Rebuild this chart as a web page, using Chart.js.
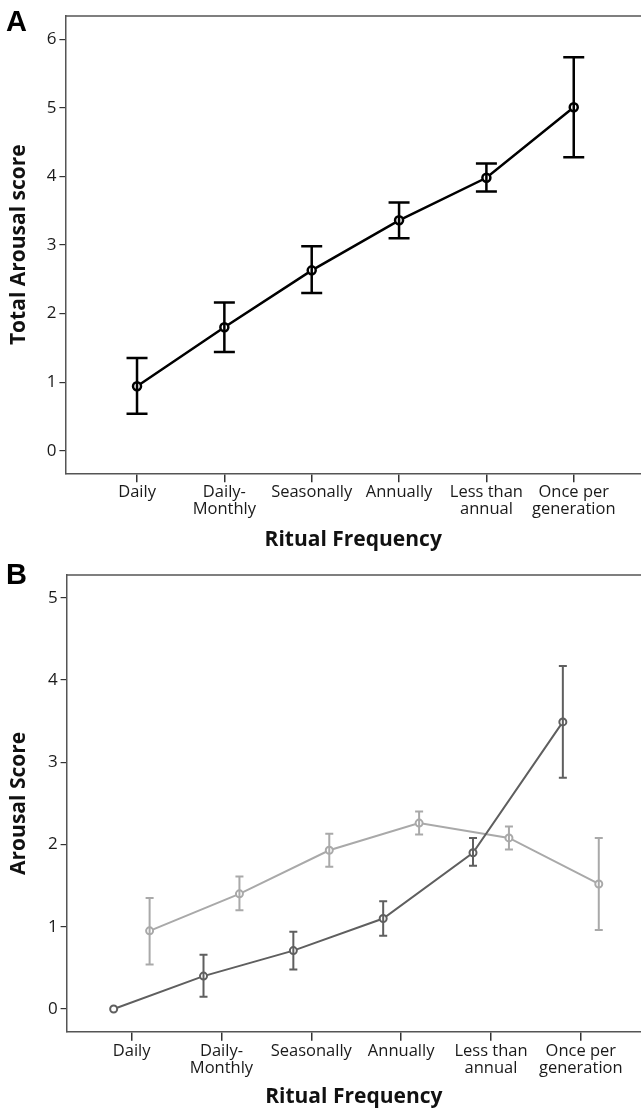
<!DOCTYPE html>
<html>
<head>
<meta charset="utf-8">
<script src="https://cdn.jsdelivr.net/npm/chart.js@4"></script>
<style>
  body { margin: 0; background: #fff; overflow: hidden; }
  .panel { position: absolute; left: 0; width: 641px; }
  .panel canvas { display: block; }
  #boxA { top: 0; height: 555px; }
  #boxB { top: 555px; height: 556px; }
</style>
</head>
<body>
<div class="panel" id="boxA"><canvas id="chartA" width="641" height="555"></canvas></div>
<div class="panel" id="boxB"><canvas id="chartB" width="641" height="556"></canvas></div>
<script>
// categorias do eixo x
const categorias = ['Daily', ['Daily-', 'Monthly'], 'Seasonally', 'Annually', ['Less than', 'annual'], ['Once per', 'generation']];

// Painel A - Total Arousal score
const totalMedia = [0.94, 1.80, 2.63, 3.36, 3.98, 5.01];
const totalMin   = [0.54, 1.44, 2.30, 3.10, 3.78, 4.28];
const totalMax   = [1.35, 2.16, 2.98, 3.62, 4.19, 5.74];

// Painel B - duas series
const escuraMedia = [0.00, 0.40, 0.71, 1.10, 1.90, 3.49];
const escuraMin   = [0.00, 0.15, 0.48, 0.89, 1.74, 2.81];
const escuraMax   = [0.00, 0.66, 0.94, 1.31, 2.08, 4.17];

const claraMedia = [0.95, 1.40, 1.93, 2.26, 2.08, 1.52];
const claraMin   = [0.54, 1.20, 1.73, 2.12, 1.94, 0.96];
const claraMax   = [1.35, 1.61, 2.13, 2.40, 2.22, 2.08];

const yTicksA = [0, 1, 2, 3, 4, 5, 6];
const yTicksB = [0, 1, 2, 3, 4, 5];

const fonte = "'Open Sans', sans-serif";

function pontos(valores, desloc) {
    return valores.map((v, i) => ({ x: i + desloc, y: v }));
}

// Plugin de barras de erro + moldura + letra do painel
const pluginErro = {
    id: 'barrasErro',
    afterDatasetsDraw(chart) {
        const ctx = chart.ctx;
        const yScale = chart.scales.y;
        chart.data.datasets.forEach((ds, di) => {
            if (!ds.errMin) return;
            const meta = chart.getDatasetMeta(di);
            ctx.save();
            ctx.strokeStyle = ds.borderColor;
            ctx.lineWidth = ds.errWidth;
            meta.data.forEach((pt, i) => {
                if (ds.errMin[i] === ds.errMax[i]) return;
                const yLo = yScale.getPixelForValue(ds.errMin[i]);
                const yHi = yScale.getPixelForValue(ds.errMax[i]);
                const w = ds.capHalf;
                ctx.beginPath();
                ctx.moveTo(pt.x, yLo); ctx.lineTo(pt.x, yHi);
                ctx.moveTo(pt.x - w, yLo); ctx.lineTo(pt.x + w, yLo);
                ctx.moveTo(pt.x - w, yHi); ctx.lineTo(pt.x + w, yHi);
                ctx.stroke();
            });
            ctx.restore();
        });
    },
    afterDraw(chart) {
        const { ctx, chartArea } = chart;
        const letra = chart.options.plugins.barrasErro.letra;
        ctx.save();
        // linha superior da moldura
        ctx.strokeStyle = '#555';
        ctx.lineWidth = 1.5;
        ctx.beginPath();
        ctx.moveTo(chartArea.left, chartArea.top);
        ctx.lineTo(chart.width, chartArea.top);
        ctx.stroke();
        ctx.fillStyle = '#000';
        ctx.font = 'bold 29px "Liberation Sans", Arial, sans-serif';
        ctx.textAlign = 'left';
        ctx.textBaseline = 'middle';
        ctx.fillText(letra.texto, 6, letra.y);
        ctx.restore();
    }
};

function criarGrafico(canvasId, datasets, cfg) {
    const ctx = document.getElementById(canvasId).getContext('2d');
    return new Chart(ctx, {
        type: 'line',
        data: { datasets: datasets },
        options: {
            responsive: false,
            animation: false,
            layout: {
                autoPadding: false, // sem isso o Chart.js reserva espaço à direita para os pontos
                padding: { top: cfg.top, right: 0, left: 0, bottom: cfg.bottom }
            },
            plugins: {
                legend: { display: false },
                tooltip: { enabled: false },
                barrasErro: { letra: cfg.letra }
            },
            scales: {
                x: {
                    type: 'linear',
                    min: cfg.xMin,
                    max: cfg.xMax,
                    afterBuildTicks: (ax) => { ax.ticks = categorias.map((c, i) => ({ value: i })); },
                    afterFit: (ax) => {
                        ax.height = cfg.xHeight;
                        ax.paddingLeft = 0;
                        ax.paddingRight = 0;
                    },
                    ticks: {
                        autoSkip: false,
                        maxRotation: 0,
                        padding: 2,
                        color: '#1a1a1a',
                        font: { family: fonte, size: 16.5, lineHeight: 1.02 },
                        callback: (v) => categorias[v]
                    },
                    grid: { drawOnChartArea: false, tickLength: 9, color: '#333', lineWidth: 1.5 },
                    border: { color: '#555', width: 1.5 },
                    title: {
                        display: true,
                        text: 'Ritual Frequency',
                        color: '#111',
                        font: { family: fonte, size: 21, weight: 'bold' },
                        padding: { top: 0, bottom: cfg.titlePadX }
                    }
                },
                y: {
                    min: cfg.yMin,
                    max: cfg.yMax,
                    afterBuildTicks: (ax) => { ax.ticks = cfg.yTicks.map(v => ({ value: v })); },
                    afterFit: (ax) => { ax.width = cfg.yWidth; },
                    ticks: {
                        padding: 3,
                        color: '#1a1a1a',
                        font: { family: fonte, size: 17 }
                    },
                    grid: { drawOnChartArea: false, tickLength: 6, color: '#333', lineWidth: 1.2 },
                    border: { color: '#555', width: 1.5 },
                    title: {
                        display: true,
                        text: cfg.yTitulo,
                        color: '#111',
                        font: { family: fonte, size: 21, weight: 'bold' },
                        padding: { top: 6, bottom: 0 }
                    }
                }
            }
        },
        plugins: [pluginErro]
    });
}

// Painel A
criarGrafico('chartA', [{
    data: pontos(totalMedia, 0),
    errMin: totalMin, errMax: totalMax,
    borderColor: '#000', borderWidth: 2.5,
    pointRadius: 4, pointBorderWidth: 2.5, pointBackgroundColor: '#fff',
    errWidth: 2.5, capHalf: 10.5
}], {
    top: 16, bottom: 0, xMin: -0.82, xMax: 5.77, yMin: -0.33, yMax: 6.34,
    yTicks: yTicksA, yWidth: 65.4, xHeight: 81.7, titlePadX: 2,
    yTitulo: 'Total Arousal score', letra: { texto: 'A', y: 23 }
});

// Painel B
criarGrafico('chartB', [{
    data: pontos(escuraMedia, -0.2),
    errMin: escuraMin, errMax: escuraMax,
    borderColor: '#5f5f5f', borderWidth: 2,
    pointRadius: 3.5, pointBorderWidth: 2, pointBackgroundColor: '#fff',
    errWidth: 2, capHalf: 4
}, {
    data: pontos(claraMedia, 0.2),
    errMin: claraMin, errMax: claraMax,
    borderColor: '#a9a9a9', borderWidth: 2,
    pointRadius: 3.5, pointBorderWidth: 2, pointBackgroundColor: '#fff',
    errWidth: 2, capHalf: 4
}], {
    top: 20, bottom: 0, xMin: -0.724, xMax: 5.67, yMin: -0.276, yMax: 5.276,
    yTicks: yTicksB, yWidth: 66.6, xHeight: 79.3, titlePadX: 1,
    yTitulo: 'Arousal Score', letra: { texto: 'B', y: 21 }
});
</script>
</body>
</html>
